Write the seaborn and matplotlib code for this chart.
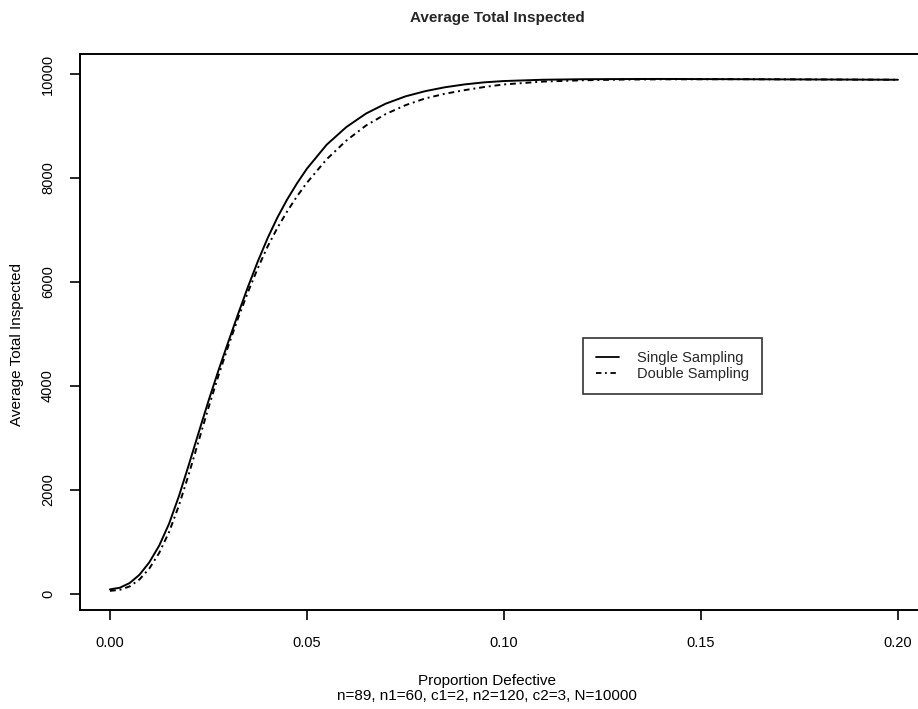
"""
Average total inspected (ATI) curves for single vs double sampling plans.
"""

import matplotlib
matplotlib.use("Agg")
import matplotlib.pyplot as plt
import pandas as pd
import seaborn as sns

# proportion defective values
p = [0.0000, 0.0025, 0.0050, 0.0075, 0.0100, 0.0125, 0.0150, 0.0175,
     0.0200, 0.0225, 0.0250, 0.0275, 0.0300, 0.0325, 0.0350, 0.0375,
     0.0400, 0.0425, 0.0450, 0.0475, 0.0500, 0.0550, 0.0600, 0.0650,
     0.0700, 0.0750, 0.0800, 0.0850, 0.0900, 0.0950, 0.1000, 0.1100,
     0.1200, 0.1300, 0.1400, 0.1600, 0.1800, 0.2000]

single_ati = [89, 120, 210, 370, 610, 930, 1350, 1880,
              2480, 3100, 3710, 4290, 4840, 5380, 5900, 6390,
              6840, 7240, 7590, 7900, 8180, 8640, 8980, 9240,
              9430, 9570, 9670, 9745, 9800, 9840, 9865, 9890,
              9900, 9903, 9905, 9900, 9895, 9890]

double_ati = [60, 80, 145, 280, 490, 790, 1190, 1700,
              2300, 2940, 3580, 4190, 4760, 5300, 5800, 6260,
              6680, 7040, 7360, 7650, 7910, 8360, 8720, 9010,
              9230, 9400, 9530, 9620, 9690, 9750, 9800, 9855,
              9880, 9893, 9898, 9900, 9895, 9890]

x_ticks = [0.00, 0.05, 0.10, 0.15, 0.20]
y_ticks = [0, 2000, 4000, 6000, 8000, 10000]

title = "Average Total Inspected"
x_label = "Proportion Defective"
subtitle = "n=89, n1=60, c1=2, n2=120, c2=3, N=10000"
y_label = "Average Total Inspected"

df = pd.concat([
    pd.DataFrame({"p": p, "ati": single_ati, "plan": "Single Sampling"}),
    pd.DataFrame({"p": p, "ati": double_ati, "plan": "Double Sampling"}),
])

sns.set_theme(style="ticks")
plt.rcParams["font.family"] = ["Liberation Sans", "DejaVu Sans"]

W, H = 918, 709
fig = plt.figure(figsize=(W / 100, H / 100), dpi=100)
ax = fig.add_axes([80 / W, 1 - 610 / H, 838 / W, 556 / H])

sns.lineplot(
    data=df, x="p", y="ati", style="plan", color="black", linewidth=1.4,
    dashes={"Single Sampling": "", "Double Sampling": (3, 2, 1, 2)},
    ax=ax, legend=False,
)

ax.set_xlim(-0.0076, 0.2051)
ax.set_ylim(-308, 10385)
ax.set_xticks(x_ticks)
ax.set_xticklabels([f"{t:.2f}" for t in x_ticks])
ax.set_yticks(y_ticks)
ax.set_yticklabels([str(t) for t in y_ticks], rotation=90, va="center")

for side in ["left", "bottom", "top"]:
    ax.spines[side].set_linewidth(1.4)
    ax.spines[side].set_color("black")
ax.spines["right"].set_visible(False)
ax.tick_params(axis="both", length=7, width=1.2, color="black",
               labelsize=10.5, labelcolor="black")
ax.tick_params(axis="x", pad=12)
ax.tick_params(axis="y", pad=11)

ax.set_xlabel(f"{x_label}\n{subtitle}", fontsize=11, linespacing=1.1,
              color="black")
ax.xaxis.set_label_coords((487 - 80) / 838, (610 - 674) / 556)
ax.set_ylabel(y_label, fontsize=11, color="black")
ax.yaxis.set_label_coords((24 - 80) / 838, (610 - 345) / 556)

fig.text(497 / W, 1 - 18 / H, title, ha="center", va="center",
         fontsize=11, fontweight="bold")

handles = [
    plt.Line2D([], [], color="black", lw=1.3),
    plt.Line2D([], [], color="black", lw=1.3, dashes=(3, 2, 1, 2)),
]
leg = ax.legend(
    handles, ["Single Sampling", "Double Sampling"],
    loc="upper left", bbox_to_anchor=(583 / W, 1 - 338 / H),
    bbox_transform=fig.transFigure, fontsize=10.5, frameon=True,
    fancybox=False, edgecolor="black", borderpad=0.9, handlelength=1.6,
    handletextpad=1.2, labelspacing=0.15, borderaxespad=0,
)
leg.get_frame().set_linewidth(1.2)

fig.savefig("out.png", dpi=100)
